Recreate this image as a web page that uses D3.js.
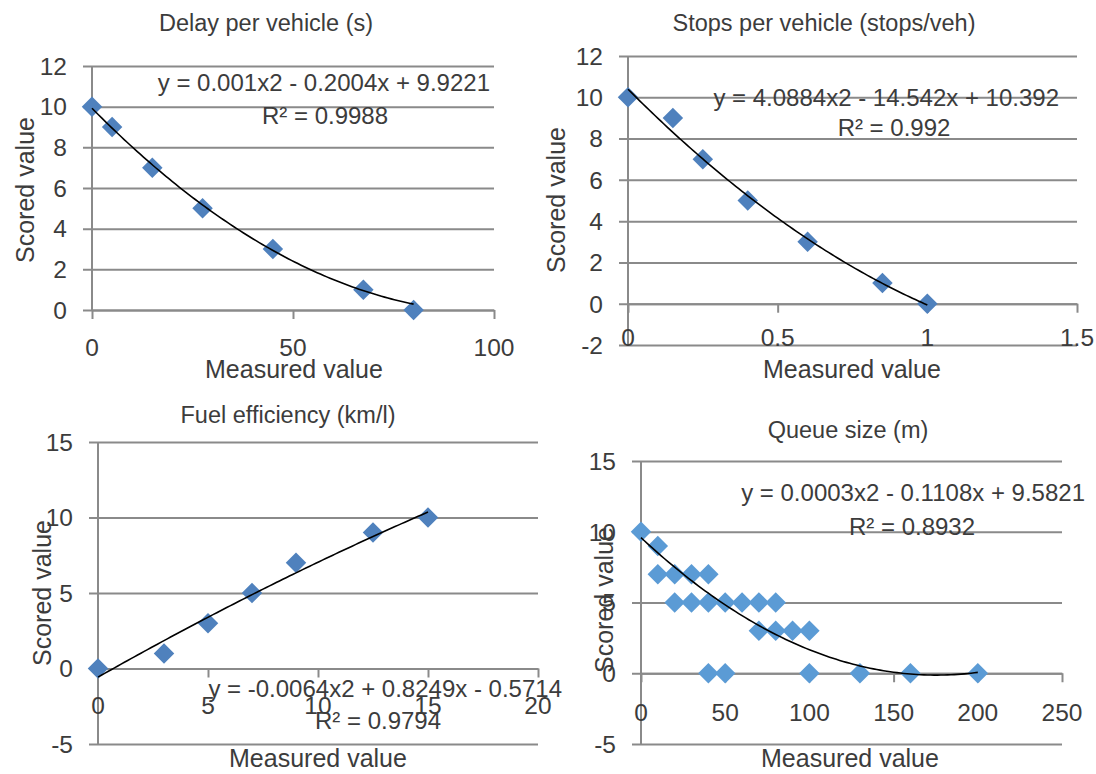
<!DOCTYPE html>
<html>
<head>
<meta charset="utf-8">
<script src="https://cdn.jsdelivr.net/npm/d3@7"></script>
<style>
  html, body { margin: 0; padding: 0; background: #fff; }
  svg text { font-family: "Liberation Sans", Arial, sans-serif; fill: #3c3c3c; }
</style>
</head>
<body>
<div id="main-container"></div>
<script>
const WIDTH = 1096;
const HEIGHT = 774;
const TICK_SIZE = 24.5;
const EQ_SIZE = 24;
const AXIS_TITLE_SIZE = 25;
const TITLE_SIZE = 23.5;
const GRID_COLOR = '#8a8a8a';
const DARK_BLUE = '#4f81bd';
const LIGHT_BLUE = '#5b9bd5';
const DIAMOND_AREA = 210;

// Data
const DELAY_X = [0, 5, 15, 27.5, 45, 67.5, 80];
const DELAY_Y = [10, 9, 7, 5, 3, 1, 0];
const STOPS_X = [0, 0.15, 0.25, 0.4, 0.6, 0.85, 1];
const STOPS_Y = [10, 9, 7, 5, 3, 1, 0];
const FUEL_X = [0, 3, 5, 7, 9, 12.5, 15];
const FUEL_Y = [0, 1, 3, 5, 7, 9, 10];
const QUEUE_X = [0, 10, 10, 20, 30, 40, 20, 30, 40, 50, 60, 70, 80, 70, 80, 90, 100, 40, 50, 100, 130, 160, 200];
const QUEUE_Y = [10, 9, 7, 7, 7, 7, 5, 5, 5, 5, 5, 5, 5, 3, 3, 3, 3, 0, 0, 0, 0, 0, 0];

// trendline coefficients [a, b, c] of y = a x^2 + b x + c (from the printed equations)
const DELAY_TREND = [0.001, -0.2004, 9.9221];
const STOPS_TREND = [4.0884, -14.542, 10.392];
const FUEL_TREND = [-0.0064, 0.8249, -0.5714];
const QUEUE_TREND = [0.000316, -0.1108, 9.5821];

const DELAY_X_TICKS = [0, 50, 100];
const DELAY_Y_TICKS = [0, 2, 4, 6, 8, 10, 12];
const STOPS_X_TICKS = [0, 0.5, 1, 1.5];
const STOPS_Y_TICKS = [-2, 0, 2, 4, 6, 8, 10, 12];
const FUEL_X_TICKS = [0, 5, 10, 15, 20];
const FUEL_Y_TICKS = [-5, 0, 5, 10, 15];
const QUEUE_X_TICKS = [0, 50, 100, 150, 200, 250];
const QUEUE_Y_TICKS = [-5, 0, 5, 10, 15];

const TITLES = ['Delay per vehicle (s)', 'Stops per vehicle (stops/veh)', 'Fuel efficiency (km/l)', 'Queue size (m)'];
const EQUATIONS = [
  'y = 0.001x2 - 0.2004x + 9.9221',
  'y = 4.0884x2 - 14.542x + 10.392',
  'y = -0.0064x2 + 0.8249x - 0.5714',
  'y = 0.0003x2 - 0.1108x + 9.5821'
];
const R2_LABELS = ['R² = 0.9988', 'R² = 0.992', 'R² = 0.9794', 'R² = 0.8932'];
const X_LABEL = 'Measured value';
const Y_LABEL = 'Scored value';

// Layout of the four panels (pixels)
const PANELS = [
  { xs: DELAY_X, ys: DELAY_Y, trend: DELAY_TREND, xTicks: DELAY_X_TICKS, yTicks: DELAY_Y_TICKS, color: DARK_BLUE,
    xRange: [92, 494], yRange: [310, 66], tickLabelY: 347,
    titlePos: [266, 23], eqPos: [490, 82], r2Pos: [325, 115], yLabelPos: [25, 190], xLabelPos: [294, 369] },
  { xs: STOPS_X, ys: STOPS_Y, trend: STOPS_TREND, xTicks: STOPS_X_TICKS, yTicks: STOPS_Y_TICKS, color: DARK_BLUE,
    xRange: [628, 1077], yRange: [345, 56], tickLabelY: 337,
    titlePos: [824, 23], eqPos: [1059, 97], r2Pos: [894, 127], yLabelPos: [556, 200], xLabelPos: [852, 369] },
  { xs: FUEL_X, ys: FUEL_Y, trend: FUEL_TREND, xTicks: FUEL_X_TICKS, yTicks: FUEL_Y_TICKS, color: DARK_BLUE,
    xRange: [98, 538], yRange: [744, 442], tickLabelY: 705,
    titlePos: [288, 415], eqPos: [562, 688], r2Pos: [378, 720], yLabelPos: [42, 593], xLabelPos: [318, 758] },
  { xs: QUEUE_X, ys: QUEUE_Y, trend: QUEUE_TREND, xTicks: QUEUE_X_TICKS, yTicks: QUEUE_Y_TICKS, color: LIGHT_BLUE,
    xRange: [641, 1062], yRange: [744, 461], tickLabelY: 712,
    titlePos: [848, 430], eqPos: [1085, 492], r2Pos: [912, 526], yLabelPos: [604, 600], xLabelPos: [850, 758] }
];

const fmt = d => String(d);

const SVG = d3.select('#main-container')
  .append('svg')
  .attr('width', WIDTH)
  .attr('height', HEIGHT);

PANELS.forEach((p, i) => {
  const g = SVG.append('g').attr('class', 'panel');

  const X_SCALE = d3.scaleLinear()
    .domain([p.xTicks[0], p.xTicks[p.xTicks.length - 1]])
    .range(p.xRange);
  const Y_SCALE = d3.scaleLinear()
    .domain([p.yTicks[0], p.yTicks[p.yTicks.length - 1]])
    .range(p.yRange);

  // horizontal gridlines (they stick out 9px left of the axis like tick marks)
  const gridW = p.xRange[1] - p.xRange[0] + 9;
  const yG = g.append('g')
    .attr('transform', `translate(${p.xRange[0] - 9}, 0)`)
    .call(d3.axisLeft(Y_SCALE).tickValues(p.yTicks).tickSize(-gridW).tickFormat(''));
  yG.select('.domain').remove();
  yG.selectAll('.tick line')
    .attr('stroke', GRID_COLOR)
    .attr('stroke-width', 2);

  // y tick labels
  g.append('g')
    .selectAll('text')
    .data(p.yTicks)
    .enter()
    .append('text')
    .attr('x', p.xRange[0] - 25)
    .attr('y', d => Y_SCALE(d))
    .attr('dy', '0.36em')
    .attr('text-anchor', 'end')
    .style('font-size', `${TICK_SIZE}px`)
    .text(fmt);

  // vertical axis line
  g.append('line')
    .attr('x1', X_SCALE(0)).attr('x2', X_SCALE(0))
    .attr('y1', p.yRange[1]).attr('y2', p.yRange[0])
    .attr('stroke', GRID_COLOR)
    .attr('stroke-width', 2);

  // horizontal axis at y = 0
  const xG = g.append('g')
    .attr('transform', `translate(0, ${Y_SCALE(0)})`)
    .call(d3.axisBottom(X_SCALE).tickValues(p.xTicks).tickSize(9).tickSizeOuter(0).tickFormat(''));
  xG.select('.domain').attr('stroke', GRID_COLOR).attr('stroke-width', 2);
  xG.selectAll('.tick line').attr('stroke', GRID_COLOR).attr('stroke-width', 2);

  // x tick labels
  g.append('g')
    .selectAll('text')
    .data(p.xTicks)
    .enter()
    .append('text')
    .attr('x', d => X_SCALE(d))
    .attr('y', p.tickLabelY)
    .attr('dy', '0.36em')
    .attr('text-anchor', 'middle')
    .style('font-size', `${TICK_SIZE}px`)
    .text(fmt);

  // diamonds
  const points = p.xs.map((x, k) => [x, p.ys[k]]);
  g.append('g')
    .selectAll('path')
    .data(points)
    .enter()
    .append('path')
    .attr('d', d3.symbol(d3.symbolSquare, DIAMOND_AREA))
    .attr('transform', d => `translate(${X_SCALE(d[0])}, ${Y_SCALE(d[1])}) rotate(45)`)
    .attr('fill', p.color);

  // polynomial trendline over the data range
  const [a, b, c] = p.trend;
  const [xMin, xMax] = d3.extent(p.xs);
  const trendPts = d3.range(0, 101).map(k => {
    const x = xMin + (xMax - xMin) * k / 100;
    return [x, a * x * x + b * x + c];
  });
  g.append('path')
    .datum(trendPts)
    .attr('d', d3.line().x(d => X_SCALE(d[0])).y(d => Y_SCALE(d[1])))
    .attr('fill', 'none')
    .attr('stroke', '#000')
    .attr('stroke-width', 1.6);

  // texts
  g.append('text')
    .attr('x', p.titlePos[0]).attr('y', p.titlePos[1])
    .attr('dy', '0.36em')
    .attr('text-anchor', 'middle')
    .style('font-size', `${TITLE_SIZE}px`)
    .text(TITLES[i]);

  g.append('text')
    .attr('x', p.eqPos[0]).attr('y', p.eqPos[1])
    .attr('dy', '0.36em')
    .attr('text-anchor', 'end')
    .style('font-size', `${EQ_SIZE}px`)
    .text(EQUATIONS[i]);

  g.append('text')
    .attr('x', p.r2Pos[0]).attr('y', p.r2Pos[1])
    .attr('dy', '0.36em')
    .attr('text-anchor', 'middle')
    .style('font-size', `${EQ_SIZE}px`)
    .text(R2_LABELS[i]);

  g.append('text')
    .attr('transform', `translate(${p.yLabelPos[0]}, ${p.yLabelPos[1]}) rotate(-90)`)
    .attr('dy', '0.36em')
    .attr('text-anchor', 'middle')
    .style('font-size', `${AXIS_TITLE_SIZE}px`)
    .text(Y_LABEL);

  g.append('text')
    .attr('x', p.xLabelPos[0]).attr('y', p.xLabelPos[1])
    .attr('dy', '0.36em')
    .attr('text-anchor', 'middle')
    .style('font-size', `${AXIS_TITLE_SIZE}px`)
    .text(X_LABEL);
});
</script>
</body>
</html>
